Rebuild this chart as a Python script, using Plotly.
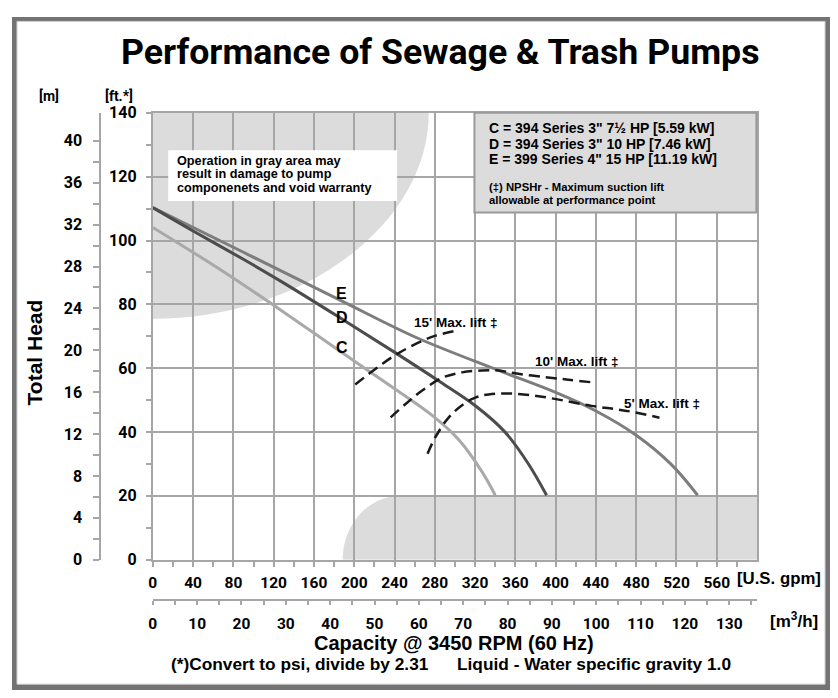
import plotly.graph_objects as go

# ---------------- data ----------------
gpm_E = [0, 89.5, 187.4, 261, 343.4, 400, 440, 480, 515, 541]
head_E = [110.3, 96.4, 81.1, 69.7, 59.3, 52.4, 46.6, 39.0, 29.8, 20.2]

gpm_D = [0, 40, 89.5, 129, 187.4, 241, 284, 320, 350, 373, 391]
head_D = [110.3, 103.0, 94.2, 86.9, 75.5, 64.8, 56.0, 48.3, 39.9, 30.0, 20.2]

gpm_C = [0, 66.5, 129, 187.4, 244.5, 277.4, 303.8, 326.8, 340]
head_C = [104.1, 91.0, 77.8, 65.0, 52.6, 45.2, 37.6, 27.6, 20.2]

gpm_15 = [201, 214.8, 228, 242.8, 264.2, 280.7, 298.9]
head_15 = [54.9, 58.3, 61.4, 64.5, 68.1, 70.2, 71.6]

gpm_10 = [236.2, 251, 267.5, 287.3, 307.1, 326.9, 343.4, 359.8, 389.5, 412.6, 435.6]
head_10 = [44.6, 48.8, 53.0, 57.0, 58.7, 59.3, 59.3, 58.4, 57.2, 56.4, 55.6]

gpm_5 = [272.8, 280.6, 293.9, 308.7, 320.2, 333.4, 353.2, 379.5, 409.2, 435.6, 458.6, 478.4, 503.1]
head_5 = [33.2, 38.4, 44.6, 48.8, 50.8, 51.8, 52.1, 51.4, 49.8, 48.2, 47.2, 46.2, 44.5]

gpm_ticks = [0, 40, 80, 120, 160, 200, 240, 280, 320, 360, 400, 440, 480, 520, 560]
m3h_ticks = [0, 10, 20, 30, 40, 50, 60, 70, 80, 90, 100, 110, 120, 130]
ft_ticks = [0, 20, 40, 60, 80, 100, 120, 140]
m_ticks = [0, 4, 8, 12, 16, 20, 24, 28, 32, 36, 40]

legend_lines = [
    'C = 394 Series 3" 7½ HP [5.59 kW]',
    'D = 394 Series 3" 10 HP [7.46 kW]',
    'E = 399 Series 4" 15 HP [11.19 kW]',
]
npsh_note = ["(‡) NPSHr - Maximum suction lift", "allowable at performance point"]
warn_note = ["Operation in gray area may", "result in damage to pump",
             "componenets and void warranty"]

# ---------------- layout helpers ----------------
# Positions below are written in screen pixels of the final picture and
# converted to paper fractions (the page offsets the figure and the
# snapshot is slightly squeezed vertically).
FW, FH = 822, 692
OFFX, OFFY, SY = 8, 16, 0.975
def PX(px):
    return (px - OFFX) / FW
def PY(py):
    return 1 - (py / SY - OFFY) / FH

GPM_PER_M3H = 4.40287
FT_PER_M = 3.28084
GRID = "#a6a6a6"
SANS = "Liberation Sans, Arial, Helvetica, sans-serif"
NARROW = "Roboto, Liberation Sans, sans-serif"

fig = go.Figure()

def curve(x, y, color, width=3, dash=None):
    fig.add_trace(go.Scatter(
        x=x, y=y, mode="lines",
        line=dict(color=color, width=width, shape="spline", smoothing=1.0,
                  dash=dash if dash else "solid"),
        hoverinfo="skip", showlegend=False))

curve(gpm_C, head_C, "#a9a9a9")
curve(gpm_E, head_E, "#7d7d7d")
curve(gpm_D, head_D, "#4c4c4c")
curve(gpm_15, head_15, "#1a1a1a", 2.5, "11px,6px")
curve(gpm_10, head_10, "#1a1a1a", 2.5, "11px,6px")
curve(gpm_5, head_5, "#1a1a1a", 2.5, "11px,6px")

# invisible point so the secondary axes get drawn
fig.add_trace(go.Scatter(x=[0], y=[0], xaxis="x2", yaxis="y2", mode="markers",
                         marker=dict(opacity=0), hoverinfo="skip", showlegend=False))

tickfont = dict(family=NARROW, size=15.5, color="black", weight="bold")
ytickfont = dict(family=NARROW, size=16, color="black", weight="bold")

fig.update_layout(
    width=FW, height=FH,
    margin=dict(l=0, r=0, t=0, b=0),
    paper_bgcolor="white",
    plot_bgcolor="rgba(0,0,0,0)",
    showlegend=False,
    xaxis=dict(
        domain=[PX(149.5), PX(756.7)], range=[0, 600],
        tickmode="array", tickvals=gpm_ticks, ticktext=[str(v) for v in gpm_ticks],
        showgrid=True, gridcolor=GRID, gridwidth=2,
        showline=True, linecolor=GRID, linewidth=2, mirror=True,
        ticks="outside", ticklen=5, tickwidth=2, tickcolor=GRID,
        minor=dict(tickmode="array", tickvals=[v + 20 for v in gpm_ticks],
                   ticks="outside", ticklen=5, tickwidth=2, tickcolor=GRID, showgrid=False),
        tickfont=tickfont, ticklabelstandoff=3, zeroline=False,
    ),
    yaxis=dict(
        domain=[PY(559.7), PY(111.7)], range=[0, 140],
        tickmode="array", tickvals=ft_ticks, ticktext=[str(v) for v in ft_ticks],
        showgrid=True, gridcolor=GRID, gridwidth=2,
        showline=True, linecolor=GRID, linewidth=2, mirror=True,
        ticks="outside", ticklen=5, tickwidth=2, tickcolor=GRID,
        minor=dict(tickmode="array", tickvals=[v + 10 for v in ft_ticks[:-1]],
                   ticks="outside", ticklen=5, tickwidth=2, tickcolor=GRID, showgrid=False),
        tickfont=ytickfont, ticklabelstandoff=6, zeroline=False,
    ),
    xaxis2=dict(
        overlaying="x", anchor="free", position=PY(600), side="bottom",
        range=[0, 600 / GPM_PER_M3H],
        tickmode="array", tickvals=m3h_ticks, ticktext=[str(v) for v in m3h_ticks],
        showgrid=False, showline=True, linecolor=GRID, linewidth=2,
        ticks="outside", ticklen=4, tickwidth=2, tickcolor=GRID,
        minor=dict(tickmode="array", tickvals=[v + 5 for v in m3h_ticks],
                   ticks="outside", ticklen=4, tickwidth=2, tickcolor=GRID, showgrid=False),
        tickfont=tickfont, ticklabelstandoff=5, zeroline=False,
    ),
    yaxis2=dict(
        overlaying="y", anchor="free", position=PX(96.7), side="left",
        range=[0, 140 / FT_PER_M],
        tickmode="array", tickvals=m_ticks, ticktext=[str(v) for v in m_ticks],
        showgrid=False, showline=True, linecolor=GRID, linewidth=2,
        ticks="outside", ticklen=6, tickwidth=2, tickcolor=GRID,
        minor=dict(tickmode="array", tickvals=[v + 2 for v in m_ticks[:-1]],
                   ticks="outside", ticklen=6, tickwidth=2, tickcolor=GRID, showgrid=False),
        tickfont=ytickfont, ticklabelstandoff=8, zeroline=False,
    ),
)

shapes = []
# frame (gray band around a white card)
shapes.append(dict(type="rect", xref="paper", yref="paper", x0=0, x1=1, y0=0, y1=1,
                   fillcolor="#737373", line=dict(width=0), layer="below"))
shapes.append(dict(type="rect", xref="paper", yref="paper", x0=PX(13), x1=(FW - 5) / FW,
                   y0=6 / FH, y1=PY(20), fillcolor="white",
                   line=dict(width=1, color="#cfcfcf"), layer="below"))
# gray operating zones
shapes.append(dict(type="path", xref="x", yref="y",
                   path="M 0,140 L 274,140 C 274,105 148,75.5 0,75.5 Z",
                   fillcolor="#dcdcdc", line=dict(width=0), layer="below"))
shapes.append(dict(type="path", xref="x", yref="y",
                   path="M 188.5,0 C 188.5,11 214,20 245,20 L 600,20 L 600,0 Z",
                   fillcolor="#dcdcdc", line=dict(width=0), layer="below"))
# legend box
shapes.append(dict(type="rect", xref="paper", yref="paper", x0=PX(472.7), x1=PX(756),
                   y0=PY(211.7), y1=PY(111.7), fillcolor="#dcdcdc",
                   line=dict(width=2, color="#9a9a9a"), layer="above"))
# warning box
shapes.append(dict(type="rect", xref="paper", yref="paper", x0=PX(165), x1=PX(395),
                   y0=PY(200), y1=PY(149.3), fillcolor="white",
                   line=dict(width=0), layer="above"))
fig.update_layout(shapes=shapes)

ann = []
def text(s, px, py, size, family=SANS, xanchor="center", yanchor="middle", textangle=0):
    ann.append(dict(text=s, x=PX(px), y=PY(py), xref="paper", yref="paper",
                    xanchor=xanchor, yanchor=yanchor, showarrow=False, textangle=textangle,
                    font=dict(family=family, size=size, color="black", weight="bold")))

text("Performance of Sewage &amp; Trash Pumps", 438, 51, 35.7, NARROW)
text("[m]", 45, 95, 14, NARROW)
text("[ft.*]", 116, 95, 14, NARROW)
text("Total Head", 31, 352, 21, SANS, textangle=-90)
text("[U.S. gpm]", 779, 579, 16.8, SANS)
text("[m<sup>3</sup>/h]", 794, 620, 17, SANS)
text("Capacity @ 3450 RPM (60 Hz)", 452, 643, 20, SANS)
text("(*)Convert to psi, divide by 2.31", 166, 664, 17.3, SANS, xanchor="left")
text("Liquid - Water specific gravity 1.0", 453, 664, 17.3, SANS, xanchor="left")

for i, s in enumerate(legend_lines):
    text(s, 485, 126.7 + 15.8 * i, 14, SANS, xanchor="left")
for i, s in enumerate(npsh_note):
    text(s, 485, 186 + 13 * i, 11.3, SANS, xanchor="left")
for i, s in enumerate(warn_note):
    text(s, 171.5, 160 + 13.4 * i, 12.7, SANS, xanchor="left")

# curve labels
text("E", 339.5, 293, 16)
text("D", 339.5, 317, 16)
text("C", 339.5, 347, 16)
text("15' Max. lift ‡", 454, 322, 13.5)
text("10' Max. lift ‡", 576, 361, 13.5)
text("5' Max. lift ‡", 661, 403, 13.5)

fig.update_layout(annotations=ann)

fig.write_html("out.html")
